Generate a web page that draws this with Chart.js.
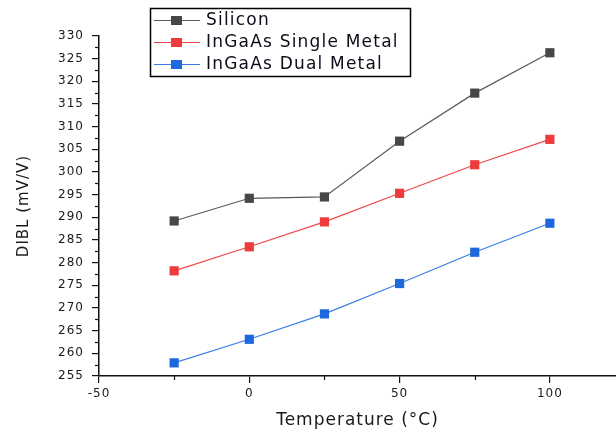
<!DOCTYPE html>
<html>
<head>
<meta charset="utf-8">
<script src="https://cdn.jsdelivr.net/npm/chart.js@4/dist/chart.umd.min.js"></script>
<style>
  html, body { margin: 0; padding: 0; background: #fff; }
  canvas { display: block; }
</style>
</head>
<body>
<canvas id="chart" width="616" height="432"></canvas>
<script>
// 数据
const temperatures = [-25, 0, 25, 50, 75, 100];
const silicon = [289.2, 294.2, 294.5, 306.8, 317.4, 326.3];
const ingaasSingle = [278.2, 283.5, 289.0, 295.3, 301.6, 307.2];
const ingaasDual = [257.9, 263.1, 268.7, 275.4, 282.3, 288.7];

// 刻度
const xTicks = [-50, -25, 0, 25, 50, 75, 100];
const xLabelTicks = [-50, 0, 50, 100];
const yTicks = [255, 257.5, 260, 262.5, 265, 267.5, 270, 272.5, 275, 277.5, 280, 282.5, 285, 287.5,
    290, 292.5, 295, 297.5, 300, 302.5, 305, 307.5, 310, 312.5, 315, 317.5, 320, 322.5, 325, 327.5, 330];

const toPoints = arr => arr.map((v, i) => ({ x: temperatures[i], y: v }));

function makeSet(label, line, marker, values) {
    return {
        label: label,
        data: toPoints(values),
        borderColor: line,
        backgroundColor: marker,
        borderWidth: 1.2,
        pointStyle: 'rect',
        pointRadius: 6.5,
        pointBorderWidth: 0,
        pointBackgroundColor: marker
    };
}

const isMajorX = v => xLabelTicks.includes(v);
const isMajorY = v => v % 5 === 0;

// 字间距
const spacingPlugin = {
    id: 'spacing',
    beforeLayout(chart) { chart.ctx.letterSpacing = '1px'; },
    beforeDraw(chart) { chart.ctx.letterSpacing = '1px'; }
};

// 次刻度
const minorTicksPlugin = {
    id: 'minorTicks',
    afterDraw(chart) {
        const ctx = chart.ctx;
        const xs = chart.scales.x, ys = chart.scales.y;
        ctx.save();
        ctx.strokeStyle = '#111';
        ctx.lineWidth = 1.2;
        xTicks.filter(v => !isMajorX(v)).forEach(v => {
            const px = Math.round(xs.getPixelForValue(v)) + 0.5;
            ctx.beginPath();
            ctx.moveTo(px, xs.top);
            ctx.lineTo(px, xs.top + 4);
            ctx.stroke();
        });
        yTicks.filter(v => !isMajorY(v)).forEach(v => {
            const py = Math.round(ys.getPixelForValue(v)) + 0.5;
            ctx.beginPath();
            ctx.moveTo(ys.right, py);
            ctx.lineTo(ys.right - 4, py);
            ctx.stroke();
        });
        ctx.restore();
    }
};

// 图例
const legendBoxPlugin = {
    id: 'legendBox',
    afterDraw(chart) {
        const ctx = chart.ctx;
        ctx.save();
        ctx.fillStyle = '#fff';
        ctx.fillRect(150, 8, 260, 68);
        ctx.strokeStyle = '#000';
        ctx.lineWidth = 1.5;
        ctx.strokeRect(150.5, 8.5, 260, 68);
        ctx.font = '17px "DejaVu Sans"';
        ctx.letterSpacing = '1.2px';
        ctx.textBaseline = 'middle';
        chart.data.datasets.forEach((ds, i) => {
            const y = 20 + i * 22;
            ctx.strokeStyle = ds.borderColor;
            ctx.lineWidth = 1.2;
            ctx.beginPath();
            ctx.moveTo(154, y + 0.5);
            ctx.lineTo(200, y + 0.5);
            ctx.stroke();
            ctx.fillStyle = ds.pointBackgroundColor;
            ctx.fillRect(171, y - 4, 11, 9);
            ctx.fillStyle = '#0d0d1a';
            ctx.fillText(ds.label, 206, y + 1);
        });
        ctx.restore();
    }
};

const ctx = document.getElementById('chart').getContext('2d');
new Chart(ctx, {
    type: 'line',
    data: {
        datasets: [
            makeSet('Silicon', '#5a5a5a', '#474747', silicon),
            makeSet('InGaAs Single Metal', '#f04848', '#ee3b3b', ingaasSingle),
            makeSet('InGaAs Dual Metal', '#3a7ee6', '#1c68dc', ingaasDual)
        ]
    },
    options: {
        responsive: false,
        animation: false,
        layout: { autoPadding: false, padding: { top: 36, right: 0, bottom: 0, left: 0 } },
        plugins: {
            legend: { display: false },
            tooltip: { enabled: false }
        },
        scales: {
            x: {
                type: 'linear',
                min: -50,
                max: 122,
                afterBuildTicks: s => { s.ticks = xTicks.map(v => ({ value: v })); },
                afterFit: s => { s.height = 56; },
                border: { display: true, color: '#111', width: 1.5 },
                grid: {
                    drawOnChartArea: false,
                    tickLength: 7,
                    lineWidth: 1.2,
                    color: c => isMajorX(c.tick.value) ? '#111' : 'rgba(0,0,0,0)'
                },
                ticks: {
                    padding: 4,
                    autoSkip: false,
                    maxRotation: 0,
                    color: '#1a1a1a',
                    font: { family: 'DejaVu Sans', size: 12 },
                    callback: v => isMajorX(v) ? String(v) : ''
                },
                title: {
                    display: true,
                    text: 'Temperature (°C)',
                    color: '#1a1a1a',
                    font: { family: 'DejaVu Sans', size: 17 },
                    padding: { top: 0, bottom: 1 }
                }
            },
            y: {
                type: 'linear',
                min: 255,
                max: 330,
                afterBuildTicks: s => { s.ticks = yTicks.map(v => ({ value: v })); },
                afterFit: s => { s.width = 99; },
                border: { display: true, color: '#111', width: 1.5 },
                grid: {
                    drawOnChartArea: false,
                    tickLength: 7,
                    lineWidth: 1.2,
                    color: c => isMajorY(c.tick.value) ? '#111' : 'rgba(0,0,0,0)'
                },
                ticks: {
                    padding: 8,
                    autoSkip: false,
                    color: '#1a1a1a',
                    font: { family: 'DejaVu Sans', size: 12 },
                    callback: v => isMajorY(v) ? String(v) : ''
                },
                title: {
                    display: true,
                    text: 'DIBL (mV/V)',
                    color: '#1a1a1a',
                    font: { family: 'DejaVu Sans', size: 15 },
                    padding: { top: 15, bottom: 0 }
                }
            }
        }
    },
    plugins: [spacingPlugin, minorTicksPlugin, legendBoxPlugin]
});
</script>
</body>
</html>
